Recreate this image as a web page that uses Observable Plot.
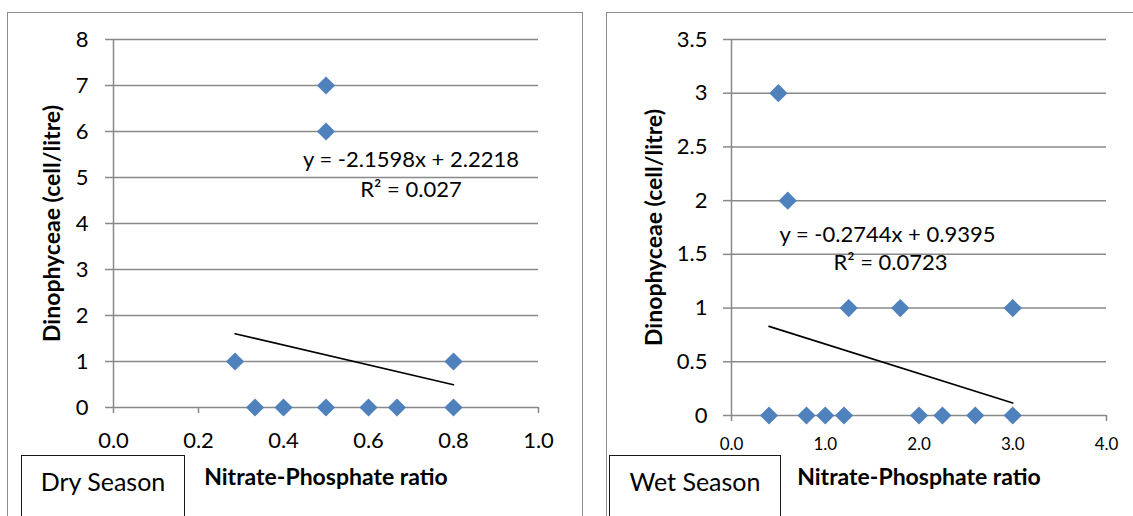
<!DOCTYPE html>
<html>
<head>
<meta charset="utf-8">
<script src="https://cdn.jsdelivr.net/npm/d3@7"></script>
<script src="https://cdn.jsdelivr.net/npm/@observablehq/plot@0.6"></script>
<style>
  html, body { margin: 0; padding: 0; background: #fff; }
  body { position: relative; width: 1133px; height: 516px; overflow: hidden; font-family: Lato, "Noto Sans", sans-serif; }
  .chart { position: absolute; top: 0; }
  .frame { position: absolute; border: 1.5px solid #8c8c8c; box-sizing: border-box; background: transparent; }
  .legend { position: absolute; border: 1.5px solid #1a1a1a; box-sizing: border-box; background: #fff;
            font-size: 25px; color: #000; text-align: center; }
  .legend span { display: block; margin-top: 11px; line-height: 28px; }
</style>
</head>
<body>
<div id="c1" class="chart" style="left:0px"></div>
<div id="c2" class="chart" style="left:590px"></div>
<div class="frame" style="left:7px;top:12px;width:576px;height:530px"></div>
<div class="frame" style="left:606px;top:12px;width:540px;height:530px"></div>
<div class="legend" style="left:21px;top:455px;width:164px;height:80px"><span>Dry Season</span></div>
<div class="legend" style="left:609px;top:455px;width:172px;height:80px"><span>Wet Season</span></div>
<script>
// ---- Data ----
const xTitle = "Nitrate-Phosphate ratio";
const yTitle = "Dinophyceae (cell/litre)";

// Dry season
const dryX = [0.286, 0.5, 0.5, 0.8, 0.333, 0.4, 0.5, 0.6, 0.667, 0.8];
const dryY = [1, 7, 6, 1, 0, 0, 0, 0, 0, 0];
const dryFit = [-2.1598, 2.2218];   // slope, intercept
const dryR2 = 0.027;
const dryXTicks = [0, 0.2, 0.4, 0.6, 0.8, 1.0];
const dryYTicks = [0, 1, 2, 3, 4, 5, 6, 7, 8];

// Wet season
const wetX = [0.5, 0.6, 1.25, 1.8, 3.0, 0.4, 0.8, 1.0, 1.2, 2.0, 2.25, 2.6, 3.0];
const wetY = [3, 2, 1, 1, 1, 0, 0, 0, 0, 0, 0, 0, 0];
const wetFit = [-0.2744, 0.9395];
const wetR2 = 0.0723;
const wetXTicks = [0, 1, 2, 3, 4];
const wetYTicks = [0, 0.5, 1, 1.5, 2, 2.5, 3, 3.5];

const GRID = "#898989";
const BLUE = "#4f81bd";

function makeChart(o) {
  const pts = o.xs.map((x, i) => ({x, y: o.ys[i]}));
  const [x0, x1] = d3.extent(o.xs);
  const fit = [x0, x1].map(x => ({x, y: o.fit[0] * x + o.fit[1]}));
  const eq = `y = ${o.fit[0]}x + ${o.fit[1]}`;
  const r2 = `R\u00B2 = ${o.r2}`;
  return Plot.plot({
    width: o.width, height: 516,
    marginLeft: o.ml, marginRight: o.mr, marginTop: 39, marginBottom: o.mb,
    x: {domain: o.xDomain},
    y: {domain: o.yDomain},
    style: {background: "transparent", fontFamily: "Lato, 'Noto Sans', sans-serif", color: "#000", overflow: "visible"},
    marks: [
      Plot.gridY(o.yTicks, {stroke: GRID, strokeOpacity: 1, strokeWidth: 1.5}),
      Plot.ruleX([0], {stroke: GRID, strokeWidth: 1.5}),
      Plot.axisY(o.yTicks, {tickSize: 8, tickPadding: o.ytp, stroke: GRID, strokeWidth: 1.5, fill: "#000",
                            fontSize: 22, tickFormat: d => String(d), label: null}),
      Plot.axisX(o.xTicks, {tickSize: 6, tickPadding: o.xtp, stroke: GRID, strokeWidth: 1.5, fill: "#000",
                            fontSize: o.xfs, tickFormat: d3.format(".1f"), label: null}),
      Plot.line(fit, {x: "x", y: "y", stroke: "#000", strokeWidth: 1.6}),
      Plot.dot(pts, {x: "x", y: "y", symbol: "diamond2", r: 8.2, fill: BLUE, stroke: "none"}),
      Plot.text([eq], {x: () => o.eqPos[0], y: () => o.eqPos[1], lineAnchor: "bottom", fontSize: 22, fill: "#000"}),
      Plot.text([r2], {x: () => o.r2Pos[0], y: () => o.r2Pos[1], lineAnchor: "bottom", fontSize: 22, fill: "#000"}),
      Plot.text([xTitle], {frameAnchor: "bottom", dy: o.xTitleDy, textAnchor: "middle", lineAnchor: "middle",
                           fontSize: 23, fontWeight: "bold", fill: "#000"}),
      Plot.text([yTitle], {frameAnchor: "left", dx: o.yTitleDx, rotate: -90, textAnchor: "middle", lineAnchor: "middle",
                           fontSize: 23, fontWeight: "bold", fill: "#000"})
    ]
  });
}

document.getElementById("c1").append(makeChart({
  xs: dryX, ys: dryY, fit: dryFit, r2: dryR2, xTicks: dryXTicks, yTicks: dryYTicks,
  width: 590, ml: 113, mr: 52, mb: 109, xDomain: [0, 1], yDomain: [0, 8],
  ytp: 17, xtp: 19, xfs: 22,
  eqPos: [0.70, 5.22], r2Pos: [0.70, 4.57], xTitleDy: 70, yTitleDx: -61
}));
document.getElementById("c2").append(makeChart({
  xs: wetX, ys: wetY, fit: wetFit, r2: wetR2, xTicks: wetXTicks, yTicks: wetYTicks,
  width: 543, ml: 141, mr: 27, mb: 101, xDomain: [0, 4], yDomain: [0, 3.5],
  ytp: 16, xtp: 16, xfs: 17,
  eqPos: [1.664, 1.613], r2Pos: [1.696, 1.35], xTitleDy: 62, yTitleDx: -77
}));
</script>
</body>
</html>
